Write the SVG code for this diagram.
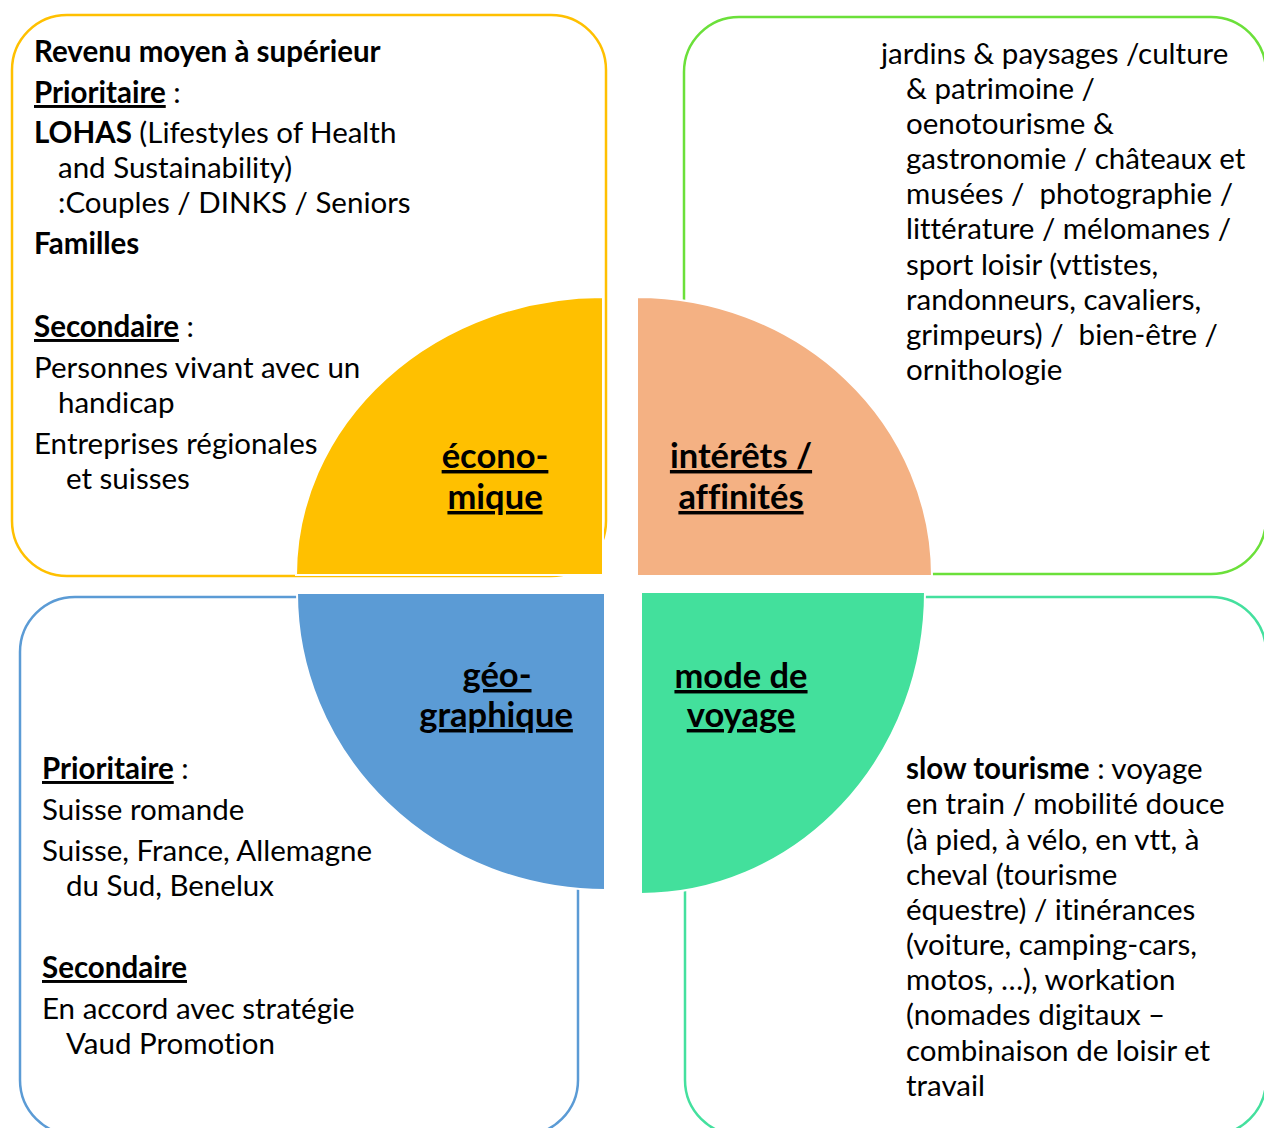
<svg xmlns="http://www.w3.org/2000/svg" width="1264" height="1128" viewBox="0 0 1264 1128">
<style>
.box{fill:#FFFFFF;stroke-width:2.5}
.q{stroke:#FFFFFF;stroke-width:2}
text{font-family:Lato,"Open Sans","Liberation Sans",sans-serif;fill:#000000;font-variant-ligatures:none}
.t{font-size:29.5px}
.b{font-weight:bold}
.u{text-decoration:underline}
.lbl{font-size:34.5px;font-weight:bold;text-decoration:underline;text-anchor:middle}
</style>
<rect width="1264" height="1128" fill="#FFFFFF"/>
<g id="box-economique">
<rect class="box" x="12" y="15" width="594" height="561" rx="55" stroke="#FFC000"/>
<text class="t"><tspan x="34" y="62" class="b">Revenu moyen à supérieur</tspan></text>
<text class="t" x="34" y="103"><tspan class="b u">Prioritaire</tspan> :</text>
<text class="t" x="34" y="143"><tspan class="b">LOHAS</tspan> (Lifestyles of Health</text>
<text class="t" x="58" y="178">and Sustainability)</text>
<text class="t" x="58" y="213">:Couples / DINKS / Seniors</text>
<text class="t b" x="34" y="254">Familles</text>
<text class="t" x="34" y="337"><tspan class="b u">Secondaire</tspan> :</text>
<text class="t" x="34" y="378">Personnes vivant avec un</text>
<text class="t" x="58" y="413">handicap</text>
<text class="t" x="34" y="454">Entreprises régionales</text>
<text class="t" x="66" y="489">et suisses</text>
</g>
<g id="box-interets">
<rect class="box" x="684" y="17" width="582" height="557" rx="55" stroke="#6BE03A"/>
<text class="t" x="881" y="64">jardins &amp; paysages /culture</text>
<text class="t" x="906" y="99">&amp; patrimoine /</text>
<text class="t" x="906" y="134">oenotourisme &amp;</text>
<text class="t" x="906" y="169">gastronomie / châteaux et</text>
<text class="t" x="906" y="204" xml:space="preserve">musées /  photographie /</text>
<text class="t" x="906" y="239">littérature / mélomanes /</text>
<text class="t" x="906" y="275">sport loisir (vttistes,</text>
<text class="t" x="906" y="310">randonneurs, cavaliers,</text>
<text class="t" x="906" y="345" xml:space="preserve">grimpeurs) /  bien-être /</text>
<text class="t" x="906" y="380">ornithologie</text>
</g>
<g id="box-geographique">
<rect class="box" x="20" y="597" width="558" height="538" rx="55" stroke="#5B9BD5"/>
<text class="t" x="42" y="779"><tspan class="b u">Prioritaire</tspan> :</text>
<text class="t" x="42" y="820">Suisse romande</text>
<text class="t" x="42" y="861">Suisse, France, Allemagne</text>
<text class="t" x="66" y="896">du Sud, Benelux</text>
<text class="t b u" x="42" y="978">Secondaire</text>
<text class="t" x="42" y="1019">En accord avec stratégie</text>
<text class="t" x="66" y="1054">Vaud Promotion</text>
</g>
<g id="box-mode">
<rect class="box" x="685" y="597" width="581" height="538" rx="55" stroke="#44E09E"/>
<text class="t" x="906" y="779"><tspan class="b">slow tourisme</tspan> : voyage</text>
<text class="t" x="906" y="814">en train / mobilité douce</text>
<text class="t" x="906" y="850">(à pied, à vélo, en vtt, à</text>
<text class="t" x="906" y="885">cheval (tourisme</text>
<text class="t" x="906" y="920">équestre) / itinérances</text>
<text class="t" x="906" y="955">(voiture, camping-cars,</text>
<text class="t" x="906" y="990">motos, …), workation</text>
<text class="t" x="906" y="1025">(nomades digitaux –</text>
<text class="t" x="906" y="1061">combinaison de loisir et</text>
<text class="t" x="906" y="1096">travail</text>
</g>
<g id="quarter-economique">
<path class="q" d="M603,575 L296,575 A307,278 0 0 1 603,297 Z" fill="#FFC000"/>
<text class="lbl" x="495" y="468">écono-</text>
<text class="lbl" x="495" y="509">mique</text>
</g>
<g id="quarter-interets">
<path class="q" d="M637,576 L637,297 A295,279 0 0 1 932,576 Z" fill="#F4B183"/>
<text class="lbl" x="741" y="468">intérêts /</text>
<text class="lbl" x="741" y="509">affinités</text>
</g>
<g id="quarter-geographique">
<path class="q" d="M605,593 L297,593 A308,297 0 0 0 605,890 Z" fill="#5B9BD5"/>
<text class="lbl" x="497" y="687">géo-</text>
<text class="lbl" x="496" y="727">graphique</text>
</g>
<g id="quarter-mode">
<path class="q" d="M641,592 L925,592 A284,302 0 0 1 641,894 Z" fill="#43E09C"/>
<text class="lbl" x="741" y="688">mode de</text>
<text class="lbl" x="741" y="727">voyage</text>
</g>
<g id="connectors"/>
</svg>
